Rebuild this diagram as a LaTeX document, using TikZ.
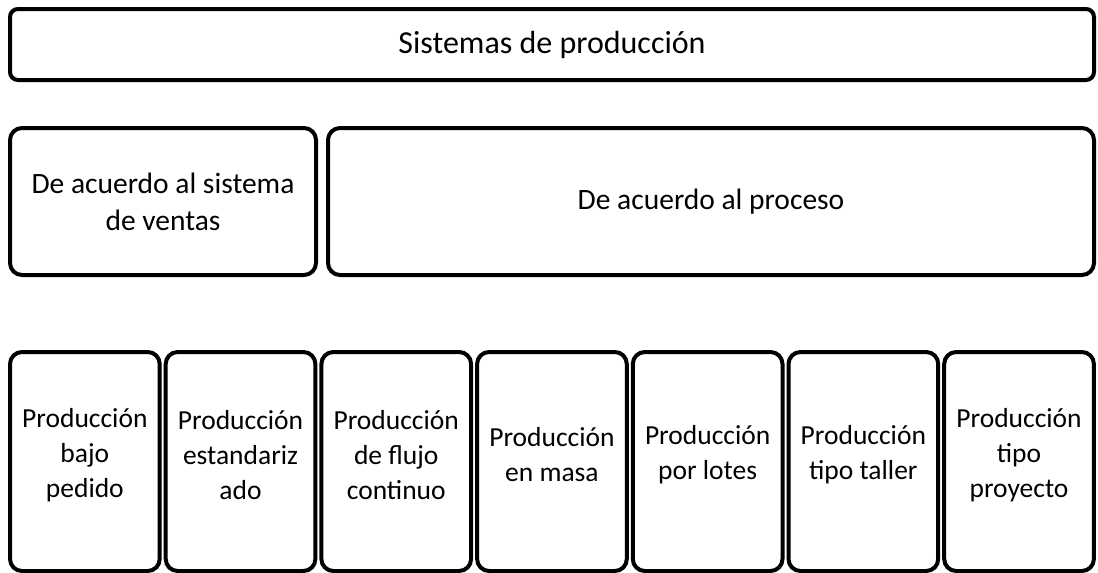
\documentclass[tikz,border=0pt]{standalone}
\usepackage{fontspec}
\setmainfont{Carlito}
\begin{document}
\begin{tikzpicture}[x=1pt,y=-1pt,
  box/.style={draw=black, line width=4pt, rounded corners=12pt, fill=white, align=center, inner sep=0pt},
  lbl/.style={align=center, inner sep=0pt, font=\fontsize{27.5}{35}\selectfont}]
\useasboundingbox (0,0) rectangle (1098,573);
\node[box, minimum width=1084pt, minimum height=71pt, rounded corners=8pt, font=\fontsize{32}{38}\selectfont] (top) at (552,44.5) {Sistemas de producción};
\node[box, minimum width=306pt, minimum height=147pt, font=\fontsize{29.5}{37}\selectfont] (ventas) at (163,201.5) {De acuerdo al sistema\\de ventas};
\node[box, minimum width=766pt, minimum height=147pt, font=\fontsize{29.5}{37}\selectfont] (proceso) at (711,201.5) {De acuerdo al proceso};
\foreach \i/\t in {0/{Producción\\bajo\\pedido},1/{Producción\\estandariz\\ado},2/{Producción\\de flujo\\continuo},3/{Producción\\en masa},4/{Producción\\por lotes},5/{Producción\\tipo taller},6/{Producción\\tipo\\proyecto}}{
  \node[box, minimum width=149.7pt, minimum height=219pt] (p\i) at ({10+74.85+\i*155.7},461.5) {};
  \node[lbl] (t\i) at ({10+74.85+\i*155.7},455) {\t};
}
\end{tikzpicture}
\end{document}
